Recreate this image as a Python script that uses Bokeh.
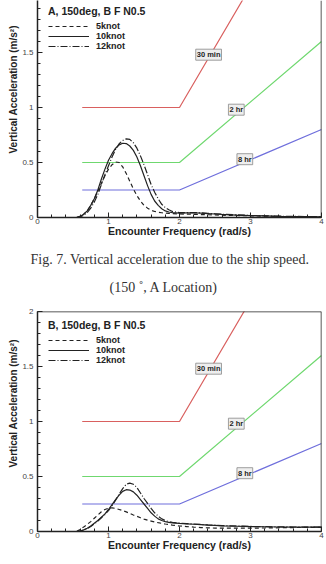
from bokeh.embed import file_html
from bokeh.layouts import column
from bokeh.models import (Label, Legend, LegendItem, SingleIntervalTicker, Span,
                          Range1d, Title)
from bokeh.plotting import figure
from bokeh.resources import INLINE

# ---------------------------------------------------------------- data
freq = [0.55, 0.6, 0.65, 0.7, 0.75, 0.8, 0.85, 0.9, 0.95, 1.0, 1.05, 1.1,
        1.15, 1.2, 1.25, 1.3, 1.35, 1.4, 1.45, 1.5, 1.55, 1.6, 1.65, 1.7,
        1.75, 1.8, 1.85, 1.9, 2.0, 2.1, 2.2, 2.3, 2.4, 2.5, 2.6, 2.8, 3.0,
        3.2, 3.4, 3.6, 3.8, 4.0]

# Location A, 150 deg heading
a_5knot = [0.0, 0.01, 0.03, 0.06, 0.11, 0.17, 0.24, 0.31, 0.38, 0.44, 0.48,
           0.505, 0.50, 0.46, 0.40, 0.33, 0.26, 0.20, 0.15, 0.11, 0.085,
           0.065, 0.055, 0.048, 0.043, 0.040, 0.037, 0.035, 0.032, 0.031,
           0.029, 0.027, 0.025, 0.023, 0.021, 0.018, 0.015, 0.012, 0.010,
           0.008, 0.007, 0.006]
a_10knot = [0.0, 0.01, 0.03, 0.06, 0.11, 0.17, 0.25, 0.35, 0.44, 0.52, 0.58,
            0.63, 0.66, 0.675, 0.672, 0.65, 0.61, 0.55, 0.47, 0.38, 0.29,
            0.21, 0.15, 0.11, 0.08, 0.06, 0.05, 0.045, 0.040, 0.042, 0.043,
            0.040, 0.036, 0.032, 0.028, 0.022, 0.017, 0.014, 0.011, 0.009,
            0.008, 0.007]
a_12knot = [0.0, 0.005, 0.02, 0.045, 0.085, 0.14, 0.21, 0.30, 0.39, 0.47,
            0.55, 0.62, 0.67, 0.70, 0.715, 0.71, 0.68, 0.63, 0.56, 0.48,
            0.39, 0.30, 0.23, 0.17, 0.12, 0.09, 0.07, 0.055, 0.045, 0.045,
            0.045, 0.042, 0.038, 0.034, 0.030, 0.024, 0.019, 0.015, 0.012,
            0.010, 0.009, 0.008]

# Location B, 150 deg heading
b_5knot = [0.0, 0.02, 0.04, 0.065, 0.09, 0.12, 0.15, 0.18, 0.20, 0.212,
           0.215, 0.21, 0.20, 0.19, 0.178, 0.165, 0.15, 0.138, 0.125, 0.113,
           0.103, 0.095, 0.087, 0.080, 0.074, 0.068, 0.063, 0.058, 0.050,
           0.045, 0.040, 0.036, 0.033, 0.031, 0.030, 0.030, 0.031, 0.032,
           0.034, 0.036, 0.037, 0.038]
b_10knot = [0.0, 0.005, 0.015, 0.03, 0.05, 0.075, 0.10, 0.13, 0.16, 0.20,
            0.245, 0.29, 0.33, 0.365, 0.38, 0.377, 0.36, 0.33, 0.29, 0.25,
            0.21, 0.17, 0.14, 0.115, 0.10, 0.09, 0.083, 0.078, 0.073,
            0.070, 0.066, 0.062, 0.058, 0.055, 0.052, 0.048, 0.045, 0.043,
            0.041, 0.040, 0.040, 0.039]
b_12knot = [0.0, 0.004, 0.012, 0.025, 0.045, 0.07, 0.095, 0.125, 0.155, 0.19,
            0.235, 0.285, 0.34, 0.39, 0.43, 0.44, 0.43, 0.40, 0.35, 0.30,
            0.255, 0.21, 0.17, 0.14, 0.115, 0.10, 0.09, 0.083, 0.076, 0.072,
            0.068, 0.064, 0.060, 0.057, 0.054, 0.050, 0.046, 0.044, 0.042,
            0.041, 0.040, 0.040]

# Exposure-time comfort boundaries
crit_freq = [0.63, 2.0, 4.0]
crit_30min = [1.0, 1.0, 3.2]
crit_2hr = [0.5, 0.5, 1.6]
crit_8hr = [0.25, 0.25, 0.8]
crit_names = ["30 min", "2 hr", "8 hr"]
crit_label_x = [2.41, 2.80, 2.92]
crit_label_y = [1.48, 0.98, 0.53]

speed_names = ["5knot", "10knot", "12knot"]

caption_lines = ["Fig. 7. Vertical acceleration due to the ship speed.",
                 "(150 \u02da, A  Location)"]

# ---------------------------------------------------------------- style
SANS = "Liberation Sans"
SERIF = "Liberation Serif"
INK = "#222222"
CRIT_COLORS = ["#d9605f", "#6fd86f", "#6f6fdc"]
DASHES = ["4 3", "solid", "7 2 1 2"]


def make_panel(title, series, height, y_end, border_top, border_bottom,
               legend_y, closed_top):
    p = figure(width=326, height=height, output_backend="svg",
               toolbar_location=None,
               x_range=Range1d(0, 4), y_range=Range1d(0, y_end),
               min_border_left=37, min_border_right=5,
               min_border_top=border_top, min_border_bottom=border_bottom)
    p.grid.visible = False
    p.background_fill_color = "white"
    p.border_fill_color = "white"
    p.outline_line_color = None

    # comfort boundaries
    crit = [crit_30min, crit_2hr, crit_8hr]
    for ys, col in zip(crit, CRIT_COLORS):
        p.line(crit_freq, ys, line_color=col, line_width=1.2)
    for name, lx, ly in zip(crit_names, crit_label_x, crit_label_y):
        p.add_layout(Label(x=lx, y=ly, text=name, text_align="center",
                           text_baseline="middle", text_font=SANS,
                           text_font_size="7.5px", text_font_style="bold",
                           text_color=INK, background_fill_color="#eeeeee",
                           border_line_color="#888888", border_line_width=0.8,
                           padding=1))

    # response spectra
    items = []
    for name, ys, dash in zip(speed_names, series, DASHES):
        r = p.line(freq, ys, line_color=INK, line_width=1.2, line_dash=dash)
        items.append(LegendItem(label=name, renderers=[r]))

    legend = Legend(items=items, title=title, location=(11, legend_y),
                    glyph_width=41, glyph_height=8, label_height=8,
                    spacing=0, padding=0, margin=0, label_standoff=7,
                    title_standoff=4, border_line_color=None,
                    background_fill_alpha=0,
                    label_text_font=SANS, label_text_font_size="9px",
                    label_text_font_style="bold", label_text_color=INK,
                    title_text_font=SANS, title_text_font_size="10.5px",
                    title_text_font_style="bold", title_text_color=INK)
    p.add_layout(legend)

    # frame
    p.add_layout(Span(location=4, dimension="height", line_color=INK,
                      line_width=1.5))
    if closed_top:
        p.add_layout(Span(location=y_end, dimension="width", line_color=INK,
                          line_width=1.5))

    # axes
    p.xaxis.ticker = SingleIntervalTicker(interval=1, num_minor_ticks=5)
    p.yaxis.ticker = SingleIntervalTicker(interval=0.5, num_minor_ticks=5)
    for ax in (p.xaxis, p.yaxis):
        ax.axis_line_color = INK
        ax.axis_line_width = 1.5
        ax.major_tick_in = 5
        ax.major_tick_out = 0
        ax.minor_tick_in = 3
        ax.minor_tick_out = 0
        ax.major_tick_line_color = INK
        ax.minor_tick_line_color = INK
        ax.major_label_text_font = SANS
        ax.major_label_text_font_size = "8px"
        ax.major_label_text_color = "#444444"
    p.xaxis.major_label_standoff = 1
    p.yaxis.major_label_standoff = 4
    p.xaxis.axis_label = "Encounter Frequency (rad/s)"
    p.xaxis.axis_label_standoff = -2
    p.xaxis.axis_label_text_font = SANS
    p.xaxis.axis_label_text_font_size = "10.5px"
    p.xaxis.axis_label_text_font_style = "bold"
    p.xaxis.axis_label_text_color = INK

    # vertical axis title, set a little above the frame centre
    p.add_layout(Title(text="Vertical Acceleration (m/s\u00b2)", align="left",
                       offset=64, standoff=2, text_font=SANS,
                       text_font_size="10px", text_font_style="bold",
                       text_color=INK), "left")
    return p


top = make_panel("A, 150deg, B F N0.5", [a_5knot, a_10knot, a_12knot],
                 height=300, y_end=217 / 110, border_top=0, border_bottom=83,
                 legend_y=166, closed_top=False)
top.add_layout(Title(text=caption_lines[0], align="left", offset=-7,
                     text_font=SERIF, text_font_size="14px",
                     text_font_style="normal", text_color="#333333",
                     standoff=21), "below")
top.add_layout(Title(text=caption_lines[1], align="left", offset=72,
                     text_font=SERIF, text_font_size="14px",
                     text_font_style="normal", text_color="#333333",
                     standoff=0), "below")

bottom = make_panel("B, 150deg, B F N0.5", [b_5knot, b_10knot, b_12knot],
                    height=264, y_end=2.0, border_top=11, border_bottom=33,
                    legend_y=166, closed_top=True)

layout = column(top, bottom)
open("out.html", "w").write(file_html(layout, INLINE))
